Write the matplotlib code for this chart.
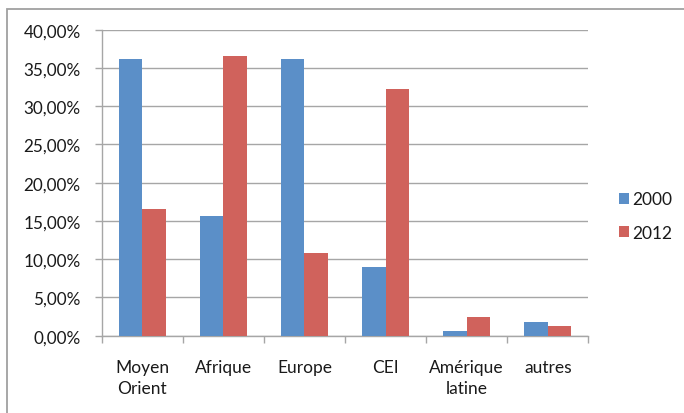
import matplotlib
matplotlib.use("Agg")
import matplotlib.pyplot as plt
import matplotlib.ticker as mticker
from matplotlib.patches import Rectangle
import numpy as np

categories = ["Moyen\nOrient", "Afrique", "Europe", "CEI", "Amérique\nlatine", "autres"]
series_names = ["2000", "2012"]
values_2000 = [36.2, 15.7, 36.2, 9.0, 0.6, 1.75]
values_2012 = [16.6, 36.5, 10.8, 32.3, 2.5, 1.3]
y_ticks = [0, 5, 10, 15, 20, 25, 30, 35, 40]

plt.rcParams['font.family'] = ['Lato', 'DejaVu Sans']

W, H = 684, 414
fig = plt.figure(figsize=(W / 100, H / 100), dpi=100)
ax = fig.add_axes([101.7 / W, 1 - 336.7 / H, (588.3 - 101.7) / W, (336.7 - 30.7) / H])

blue = "#5B8FC8"
red = "#D0625C"
grid_c = "#a6a6a6"
text_c = "#1a1a1a"

x = np.arange(len(categories))
w = 0.287
ax.bar(x - w / 2, values_2000, w, color=blue, label=series_names[0], zorder=3)
ax.bar(x + w / 2, values_2012, w, color=red, label=series_names[1], zorder=3)

ax.set_xlim(-0.5, len(categories) - 0.5)
ax.set_ylim(0, 40)
ax.set_yticks(y_ticks)
ax.yaxis.set_major_formatter(mticker.FuncFormatter(lambda v, p: f"{v:.2f}%".replace(".", ",")))
ax.yaxis.grid(True, color=grid_c, linewidth=1.0, zorder=0)
ax.set_axisbelow(True)

ax.set_xticks(x)
ax.set_xticklabels(categories, fontsize=12.5, color=text_c, linespacing=1.45)
ax.set_xticks(np.arange(-0.5, len(categories)), minor=True)
ax.tick_params(axis="x", which="major", length=0, pad=16.5)
ax.tick_params(axis="x", which="minor", length=5, width=1.0, color=grid_c, direction="out")
ax.tick_params(axis="y", length=5, width=1.0, color=grid_c, direction="out", pad=10, labelsize=12.3, labelcolor=text_c)

for s in ["top", "right"]:
    ax.spines[s].set_visible(False)
for s in ["left", "bottom"]:
    ax.spines[s].set_color(grid_c)
    ax.spines[s].set_linewidth(1.0)

fig.legend(loc="center left", bbox_to_anchor=(603 / W, 1 - 217 / H), frameon=False,
           fontsize=12.5, handlelength=0.6, handleheight=0.6, handletextpad=0.2,
           labelspacing=1.0, labelcolor=text_c)

fig.patches.append(Rectangle((7 / W, -0.1), 1.2, 0.1 + (1 - 10 / H), transform=fig.transFigure,
                             fill=False, edgecolor="#a0a0a0", linewidth=1.3))

fig.savefig("out.png", dpi=100)
